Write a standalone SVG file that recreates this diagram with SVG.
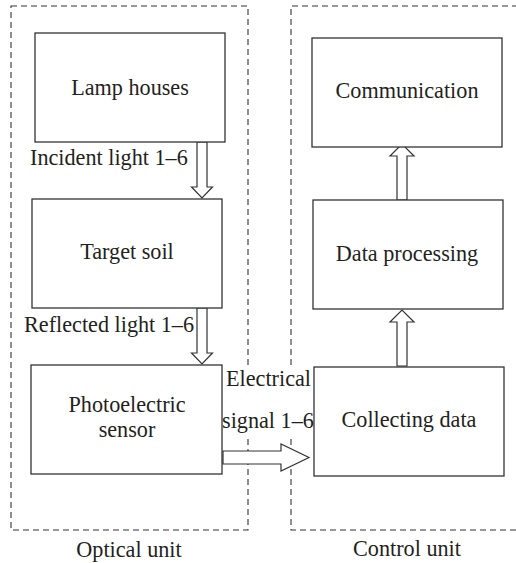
<svg xmlns="http://www.w3.org/2000/svg" width="516" height="563" viewBox="0 0 516 563">
<style>
.box{fill:#fff;stroke:#333;stroke-width:1.3}
.unit{fill:none;stroke:#333;stroke-width:1.1;stroke-dasharray:6 4}
.arr{fill:#fff;stroke:#333;stroke-width:1.2;stroke-linejoin:miter}
.t{font-family:'Liberation Serif','DejaVu Serif',serif;font-size:22.2px;fill:#231f20}
.c{text-anchor:middle}
</style>
<rect width="516" height="563" fill="#fff"/>
<g id="optical-unit">
<rect class="unit" x="11" y="6" width="237" height="524"/>
<text class="t c" x="129" y="557">Optical unit</text>
</g>
<g id="control-unit">
<path class="unit" d="M518 6H291V530H518"/>
<text class="t c" x="407" y="556">Control unit</text>
</g>
<g id="connectors">
<path class="arr" d="M197 142V187H191.5L202 198L212.5 187H207V142Z"/>
<text class="t" x="30" y="165">Incident light 1–6</text>
<path class="arr" d="M197 308V353H191.5L202 364L212.5 353H207V308Z"/>
<text class="t" x="24" y="332">Reflected light 1–6</text>
<path class="arr" d="M223 451H281V444L309 457.5L281 471V464H223Z"/>
<rect x="223" y="365" width="90" height="70" fill="#fff"/>
<text class="t" x="226" y="386">Electrical</text>
<text class="t" x="222" y="428">signal 1–6</text>
<path class="arr" d="M397 366V322H390L402 310L414 322H407V366Z"/>
<path class="arr" d="M397 200V156H390L402 144L414 156H407V200Z"/>
</g>
<g id="lamp-houses">
<rect class="box" x="35" y="33" width="190" height="109"/>
<text class="t c" x="130" y="95">Lamp houses</text>
</g>
<g id="target-soil">
<rect class="box" x="32" y="199" width="190" height="109"/>
<text class="t c" x="127" y="259">Target soil</text>
</g>
<g id="photoelectric-sensor">
<rect class="box" x="31" y="365" width="191" height="109"/>
<text class="t c" x="127" y="412">Photoelectric</text>
<text class="t c" x="127" y="437">sensor</text>
</g>
<g id="collecting-data">
<rect class="box" x="314" y="367" width="190" height="109"/>
<text class="t c" x="409" y="427">Collecting data</text>
</g>
<g id="data-processing">
<rect class="box" x="313" y="200" width="190" height="109"/>
<text class="t c" x="407" y="261">Data processing</text>
</g>
<g id="communication">
<rect class="box" x="312" y="38" width="190" height="109"/>
<text class="t c" x="407" y="98">Communication</text>
</g>
</svg>
